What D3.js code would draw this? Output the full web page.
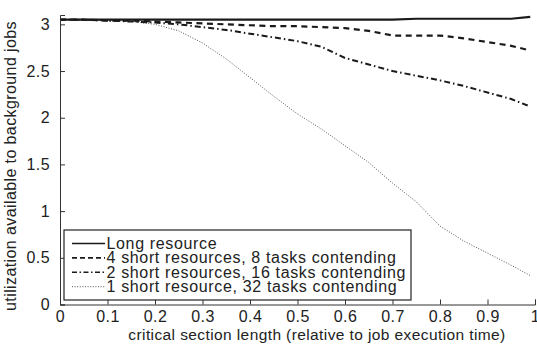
<!DOCTYPE html>
<html>
<head>
<meta charset="utf-8">
<script src="https://cdn.jsdelivr.net/npm/d3@7"></script>
<style>
  body { margin: 0; background: #fff; }
  text { font-family: "Liberation Sans", Arial, sans-serif; fill: #222; letter-spacing: 0.4px; }
</style>
</head>
<body>
<div id="plot"></div>
<script>
// data
var xs = [0, 0.05, 0.1, 0.15, 0.2, 0.25, 0.3, 0.35, 0.4, 0.45, 0.5, 0.55, 0.6, 0.65, 0.7, 0.75, 0.8, 0.85, 0.9, 0.95, 0.99];
var longRes = [3.05, 3.05, 3.05, 3.05, 3.05, 3.05, 3.05, 3.05, 3.05, 3.05, 3.05, 3.05, 3.05, 3.05, 3.05, 3.06, 3.06, 3.06, 3.06, 3.06, 3.08];
var short4 = [3.05, 3.05, 3.04, 3.04, 3.03, 3.02, 3.01, 3.0, 2.99, 2.98, 2.98, 2.97, 2.96, 2.93, 2.88, 2.88, 2.88, 2.85, 2.81, 2.77, 2.72];
var short2 = [3.05, 3.05, 3.04, 3.03, 3.02, 3.0, 2.97, 2.94, 2.9, 2.86, 2.82, 2.76, 2.64, 2.57, 2.5, 2.45, 2.4, 2.34, 2.27, 2.2, 2.12];
var short1 = [3.05, 3.05, 3.04, 3.03, 3.0, 2.93, 2.8, 2.63, 2.43, 2.23, 2.04, 1.88, 1.7, 1.52, 1.3, 1.1, 0.84, 0.68, 0.55, 0.42, 0.31];
var seriesNames = ["Long resource", "4 short resources, 8 tasks contending",
                   "2 short resources, 16 tasks contending", "1 short resource, 32 tasks contending"];
var xTicks = [0, 0.1, 0.2, 0.3, 0.4, 0.5, 0.6, 0.7, 0.8, 0.9, 1];
var yTicks = [0, 0.5, 1, 1.5, 2, 2.5, 3];

var W = 537, H = 344;
var margin = {left: 60, top: 15, right: 2, bottom: 40};

var svg = d3.select("#plot").append("svg")
    .attr("width", W).attr("height", H);

var x = d3.scaleLinear().domain([0, 1]).range([margin.left, 535]);
var y = d3.scaleLinear().domain([0, 3.1]).range([304.5, margin.top]);

// line styles per series
var styles = [
    {data: longRes, dash: null, width: 2.2, color: "#1a1a1a"},
    {data: short4, dash: "6,4.5", width: 2.2, color: "#1a1a1a"},
    {data: short2, dash: "6,3,1.5,3", width: 2, color: "#1a1a1a"},
    {data: short1, dash: "1,1.6", width: 1, color: "#555"}
];

var line = d3.line()
    .x((d, i) => x(xs[i]))
    .y(d => y(d));

// draw dotted first so heavier lines sit on top
styles.slice().reverse().forEach(function(s) {
    svg.append("path")
        .attr("d", line(s.data))
        .attr("fill", "none")
        .attr("stroke", s.color)
        .attr("stroke-width", s.width)
        .attr("stroke-dasharray", s.dash);
});

// Axes (ticks point inward)
var xAxis = svg.append("g")
    .attr("transform", `translate(0, ${y(0)})`)
    .call(d3.axisBottom(x).tickValues(xTicks).tickSizeInner(-5).tickSizeOuter(-5)
        .tickFormat(d3.format("")));
xAxis.selectAll("text").attr("dy", 0).attr("y", 17.5).style("font-size", "16px");

var yAxis = svg.append("g")
    .attr("transform", `translate(${margin.left}, 0)`)
    .call(d3.axisLeft(y).tickValues(yTicks).tickSizeInner(-5).tickSizeOuter(-5)
        .tickFormat(d3.format("")));
yAxis.selectAll("text").attr("x", -10).style("font-size", "16px");

svg.selectAll(".domain, .tick line").attr("stroke", "#333").attr("stroke-width", 1);
svg.selectAll(".tick text").attr("fill", "#222").style("font-family", "Liberation Sans, Arial, sans-serif");

// Axis labels
svg.append("text")
    .attr("transform", "translate(317, 339.5)")
    .style("text-anchor", "middle")
    .style("font-size", "15.5px")
    .text("critical section length (relative to job execution time)");

svg.append("text")
    .attr("transform", "translate(16, 166) rotate(-90)")
    .style("text-anchor", "middle")
    .style("font-size", "16px")
    .text("utilization available to background jobs");

// Legend
var legend = svg.append("g").attr("transform", "translate(64, 230)");
legend.append("rect")
    .attr("width", 347).attr("height", 70)
    .attr("fill", "#fff").attr("stroke", "#222").attr("stroke-width", 1.2);

styles.forEach(function(s, i) {
    var ly = 13.5 + i * 14.4;
    legend.append("line")
        .attr("x1", 8).attr("x2", 41)
        .attr("y1", ly).attr("y2", ly)
        .attr("stroke", s.color)
        .attr("stroke-width", i === 3 ? 1 : 1.6)
        .attr("stroke-dasharray", i === 1 ? "5,3" : i === 2 ? "5,2.5,1.5,2.5" : s.dash);
    legend.append("text")
        .attr("x", 42.5).attr("y", ly + 5.2)
        .style("font-size", "16px")
        .style("letter-spacing", "0.65px")
        .text(seriesNames[i]);
});
</script>
</body>
</html>
